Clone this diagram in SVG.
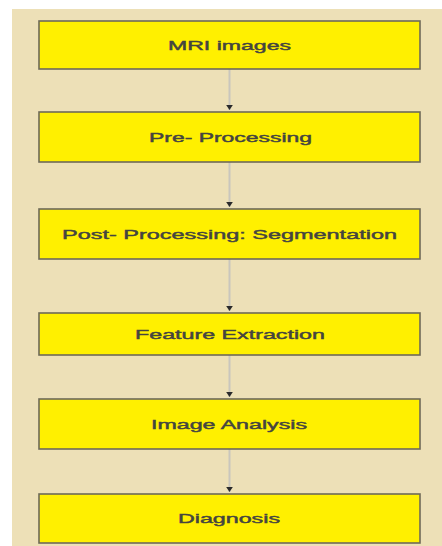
<svg xmlns="http://www.w3.org/2000/svg" width="442" height="546" viewBox="0 0 442 546">
<style>
.bg{fill:#ffffff}
.panel{fill:#ede0b7}
.box{fill:#fff000;stroke:#6e6a58;stroke-width:1.6}
.lbl{font-family:"Liberation Sans",Arial,sans-serif;font-size:13.5px;fill:#444440;stroke:#444440;stroke-width:0.45;text-anchor:middle}
.conn{stroke:#c9c6bd;stroke-width:2;fill:none}
</style>
<defs>
<marker id="ah" viewBox="0 0 6 8" refX="6" refY="4" markerWidth="5" markerHeight="7" markerUnits="userSpaceOnUse" orient="auto">
<path d="M0,0 L6,4 L0,8 Z" fill="#2a2a2a"/>
</marker>
</defs>
<rect class="bg" x="0" y="0" width="442" height="546"/>
<rect class="panel" x="12" y="9" width="430" height="537"/>
<g id="connectors">
<line class="conn" x1="229.5" y1="69" x2="229.5" y2="110" marker-end="url(#ah)"/>
<line class="conn" x1="229.5" y1="162" x2="229.5" y2="207" marker-end="url(#ah)"/>
<line class="conn" x1="229.5" y1="259" x2="229.5" y2="311" marker-end="url(#ah)"/>
<line class="conn" x1="229.5" y1="355" x2="229.5" y2="397" marker-end="url(#ah)"/>
<line class="conn" x1="229.5" y1="449" x2="229.5" y2="492" marker-end="url(#ah)"/>
</g>
<g id="n1"><rect class="box" x="39" y="21" width="381" height="48"/><text class="lbl" x="229.5" y="50" textLength="123" lengthAdjust="spacingAndGlyphs">MRI images</text></g>
<g id="n2"><rect class="box" x="39" y="112" width="381" height="50"/><text class="lbl" x="230.5" y="142" textLength="163" lengthAdjust="spacingAndGlyphs">Pre- Processing</text></g>
<g id="n3"><rect class="box" x="39" y="209" width="381" height="50"/><text class="lbl" x="229.5" y="239" textLength="335" lengthAdjust="spacingAndGlyphs">Post- Processing: Segmentation</text></g>
<g id="n4"><rect class="box" x="39" y="313" width="381" height="42"/><text class="lbl" x="230" y="339" textLength="190" lengthAdjust="spacingAndGlyphs">Feature Extraction</text></g>
<g id="n5"><rect class="box" x="39" y="399" width="381" height="50"/><text class="lbl" x="229" y="429" textLength="156" lengthAdjust="spacingAndGlyphs">Image Analysis</text></g>
<g id="n6"><rect class="box" x="39" y="494" width="381" height="49"/><text class="lbl" x="229" y="523" textLength="102" lengthAdjust="spacingAndGlyphs">Diagnosis</text></g>
</svg>
